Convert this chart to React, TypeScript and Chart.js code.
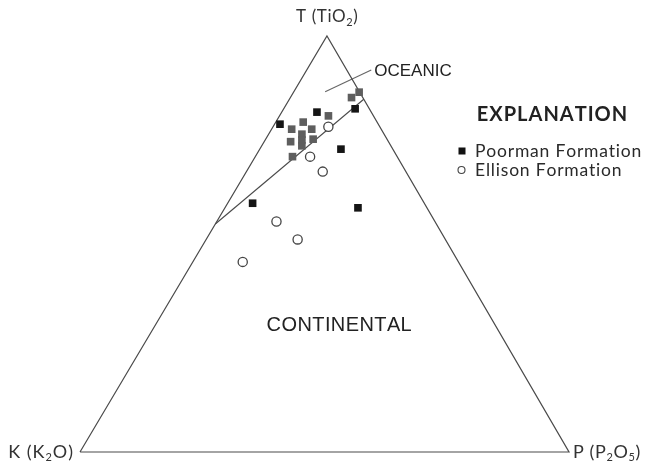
import { useEffect, useRef } from "react";
import { Chart, registerables } from "chart.js";

Chart.register(...registerables);

// Compositions in percent: T = TiO2, K = K2O, P = P2O5
const poormanT = [78.8, 81.7, 82.5, 72.8, 59.8, 58.7];
const poormanK = [20.1, 11.1, 2.9, 10.6, 35.1, 14.1];
const poormanP = [1.1, 7.2, 14.6, 16.6, 5.1, 27.2];

// Poorman samples printed in the lighter tone
const poormanGreyT = [80.8, 79.3, 77.6, 77.6, 76.4, 75.0, 73.6, 74.6, 75.2, 71.0, 85.2, 86.5];
const poormanGreyK = [9.2, 15.1, 18.3, 14.2, 16.8, 17.5, 18.2, 20.0, 15.1, 21.4, 2.3, 0.1];
const poormanGreyP = [10.0, 5.6, 4.1, 8.2, 6.8, 7.5, 8.2, 5.4, 9.7, 7.6, 12.5, 13.4];

const ellisonT = [78.2, 71.0, 67.4, 55.4, 51.1, 45.7];
const ellisonK = [10.5, 17.8, 17.0, 32.4, 30.2, 44.1];
const ellisonP = [11.3, 11.2, 15.6, 12.2, 18.7, 10.2];

// Oceanic / continental boundary
const divideT = [54.8, 84.8];
const divideK = [45.2, 0];
const divideP = [0, 15.2];

// Leader line to the OCEANIC label
const leaderT = [86.6, 91.8];
const leaderK = [7.0, -5.0];
const leaderP = [6.4, 13.2];

// Triangle corners: K, P, T, back to K
const frameT = [0, 0, 100, 0];
const frameK = [100, 0, 0, 100];
const frameP = [0, 100, 0, 0];

// Where the CONTINENTAL label sits
const continentalAt = { t: 30.3, k: 32, p: 37.7 };

const APEX_X = 0.505;

function toXY(t: number, k: number, p: number) {
  const s = t + k + p;
  const T = t / s;
  const P = p / s;
  return { x: P + APEX_X * T, y: T };
}

function series(T: number[], K: number[], P: number[]) {
  return T.map((t, i) => toXY(t, K[i], P[i]));
}

type Part = [string, boolean];

// Draws text runs (some as subscripts) with optional extra spacing between letters
function drawRich(
  ctx: CanvasRenderingContext2D,
  parts: Part[],
  x: number,
  y: number,
  align: "left" | "center" | "right",
  size: number,
  family: string,
  weight = "normal",
  spacing = 0
) {
  const subSize = Math.round(size * 0.62);
  const glyphs: { ch: string; sub: boolean; w: number }[] = [];
  parts.forEach(([s, sub]) => {
    ctx.font = `${weight} ${sub ? subSize : size}px ${family}`;
    for (const ch of s) glyphs.push({ ch, sub, w: ctx.measureText(ch).width + spacing });
  });
  const total = glyphs.reduce((a, g) => a + g.w, 0) - spacing;
  let cx = align === "left" ? x : align === "center" ? x - total / 2 : x - total;
  ctx.textAlign = "left";
  ctx.textBaseline = "middle";
  glyphs.forEach((g) => {
    ctx.font = `${weight} ${g.sub ? subSize : size}px ${family}`;
    ctx.fillText(g.ch, cx, g.sub ? y + size * 0.3 : y);
    cx += g.w;
  });
}

const labelPlugin = {
  id: "ternaryLabels",
  beforeDraw(chart: any) {
    const { ctx, width, height } = chart;
    ctx.save();
    ctx.fillStyle = "#ffffff";
    ctx.fillRect(0, 0, width, height);
    ctx.restore();
  },
  afterDatasetsDraw(chart: any) {
    const { ctx } = chart;
    const xs = chart.scales.x;
    const ys = chart.scales.y;
    const px = (p: { x: number; y: number }) => ({
      x: xs.getPixelForValue(p.x),
      y: ys.getPixelForValue(p.y),
    });
    const apex = px(toXY(100, 0, 0));
    const kCorner = px(toXY(0, 100, 0));
    const pCorner = px(toXY(0, 0, 100));
    const lead = px(toXY(leaderT[1], leaderK[1], leaderP[1]));
    const cont = px(toXY(continentalAt.t, continentalAt.k, continentalAt.p));

    ctx.save();
    ctx.fillStyle = "#333";
    const humanist = "Lato, 'DejaVu Sans', sans-serif";
    drawRich(ctx, [["T (TiO", false], ["2", true], [")", false]], apex.x, apex.y - 19, "center", 17, humanist, "normal", 0.6);
    drawRich(ctx, [["K (K", false], ["2", true], ["O)", false]], kCorner.x - 7, kCorner.y, "right", 18, humanist, "normal", 1);
    drawRich(ctx, [["P (P", false], ["2", true], ["O", false], ["5", true], [")", false]], pCorner.x + 4, pCorner.y, "left", 18, humanist, "normal", 0.6);

    ctx.fillStyle = "#222";
    const sans = "'Liberation Sans', Arial, sans-serif";
    drawRich(ctx, [["OCEANIC", false]], lead.x + 3, lead.y + 1, "left", 17, sans, "normal", 0);
    drawRich(ctx, [["CONTINENTAL", false]], cont.x, cont.y, "center", 20, sans, "normal", 0.4);

    // Explanation block
    drawRich(ctx, [["EXPLANATION", false]], 552, 115, "center", 20, humanist, "bold", 1);
    ctx.fillStyle = "#111";
    ctx.fillRect(458.5, 147.5, 7, 7);
    ctx.beginPath();
    ctx.arc(461.5, 170, 3.5, 0, Math.PI * 2);
    ctx.strokeStyle = "#444";
    ctx.lineWidth = 1.1;
    ctx.stroke();
    ctx.fillStyle = "#2a2a2a";
    drawRich(ctx, [["Poorman Formation", false]], 475, 151, "left", 17.5, humanist, "normal", 0.8);
    drawRich(ctx, [["Ellison Formation", false]], 475, 170, "left", 17.5, humanist, "normal", 0.8);
    ctx.restore();
  },
};

export default function App() {
  const ref = useRef<HTMLCanvasElement | null>(null);

  useEffect(() => {
    if (!ref.current) return;
    const lineStyle = {
      showLine: true,
      pointRadius: 0,
      borderColor: "#4a4a4a",
      borderWidth: 1.1,
      fill: false,
      order: 5,
    };
    const chart = new Chart(ref.current, {
      type: "scatter",
      data: {
        datasets: [
          { label: "frame", data: series(frameT, frameK, frameP), ...lineStyle, borderWidth: 1.2 },
          { label: "divide", data: series(divideT, divideK, divideP), ...lineStyle },
          { label: "leader", data: series(leaderT, leaderK, leaderP), ...lineStyle, borderColor: "#666" },
          {
            label: "Poorman Formation",
            data: series(poormanGreyT, poormanGreyK, poormanGreyP),
            pointStyle: "rect",
            pointRadius: 5.4,
            backgroundColor: "#5e5e5e",
            borderColor: "#5e5e5e",
            borderWidth: 0,
            order: 3,
          },
          {
            label: "Poorman Formation",
            data: series(poormanT, poormanK, poormanP),
            pointStyle: "rect",
            pointRadius: 5.4,
            backgroundColor: "#151515",
            borderColor: "#151515",
            borderWidth: 0,
            order: 2,
          },
          {
            label: "Ellison Formation",
            data: series(ellisonT, ellisonK, ellisonP),
            pointStyle: "circle",
            pointRadius: 4.6,
            backgroundColor: "#ffffff",
            borderColor: "#444",
            borderWidth: 1.3,
            order: 1,
          },
        ],
      },
      options: {
        responsive: false,
        maintainAspectRatio: false,
        animation: false,
        layout: { padding: 0, autoPadding: false },
        plugins: { legend: { display: false }, tooltip: { enabled: false } },
        scales: {
          x: { type: "linear", display: false, min: -80 / 489, max: 567 / 489 },
          y: { type: "linear", display: false, min: -15 / 416, max: 1 + 36 / 416 },
        },
      },
      plugins: [labelPlugin],
    });
    return () => chart.destroy();
  }, []);

  return (
    <div style={{ position: "absolute", left: 0, top: 0, width: 647, height: 467 }}>
      <canvas ref={ref} width={647} height={467} />
    </div>
  );
}
